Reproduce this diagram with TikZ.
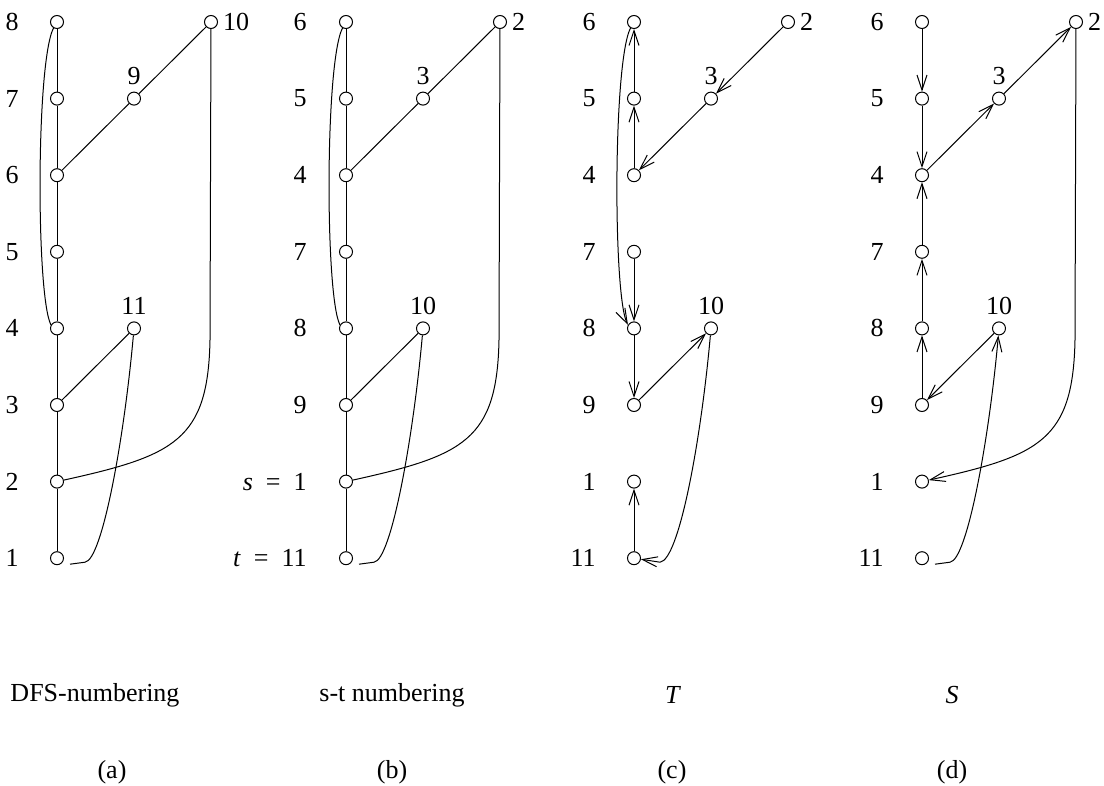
\documentclass[tikz,border=0pt]{standalone}
\usepackage{fontspec}
\setmainfont{Liberation Serif}
\usetikzlibrary{arrows.meta, calc}

\begin{document}
\begin{tikzpicture}[
        x=0.5pt, y=-0.5pt,
        vertex/.style={circle, draw, line width=0.5pt, inner sep=0pt, minimum size=6.5pt},
        rowlbl/.style={anchor=east, inner sep=0pt, font=\fontsize{13}{15}\selectfont},
        numlbl/.style={font=\fontsize{13}{15}\selectfont, label distance=0pt},
        edge/.style={line width=0.5pt},
        arr/.style={edge, -{Straight Barb[length=7.5pt, width=5pt]}},
        capt/.style={font=\fontsize{13}{15}\selectfont}
    ]
        \useasboundingbox (0,0) rectangle (1104,786);

        % vertical columns
        \foreach \lab [count=\i from 0] in {8,7,6,5,4,3,2,1} {
            \node[vertex] (a\lab) at (57,{22+76.6*\i}) {};
            \node[rowlbl] (la\lab) at (19,{22+76.6*\i}) {\lab};
        }
        \foreach \lab/\txt [count=\i from 0] in {6/6,5/5,4/4,7/7,8/8,9/9,1/{\textit{s}\enspace=\enspace1},11/{\textit{t}\enspace=\enspace11}} {
            \node[vertex] (b\lab) at (346,{22+76.6*\i}) {};
            \node[rowlbl] (lb\lab) at (307,{22+76.6*\i}) {\txt};
        }
        \foreach \p/\px in {c/634, d/922}
            \foreach \lab [count=\i from 0] in {6,5,4,7,8,9,1,11} {
                \node[vertex] (\p\lab) at (\px,{22+76.6*\i}) {};
                \node[rowlbl] (l\p\lab) at (\px-38,{22+76.6*\i}) {\lab};
            }

        % side vertices
        \foreach \p/\px/\mid/\top/\low in {a/57/9/10/11, b/346/3/2/10, c/634/3/2/10, d/922/3/2/10} {
            \node[vertex, label={[numlbl]above:\mid}] (\p\mid) at (\px+77,98.6) {};
            \node[vertex, label={[numlbl, label distance=-1pt]right:\top}] (\p\top) at (\px+154,22) {};
            \node[vertex, label={[numlbl]above:\low}] (\p\low) at (\px+77,328.4) {};
        }

        % (a) DFS-numbering
        \draw[edge] (a8) -- (a7) -- (a6) -- (a5) -- (a4) -- (a3) -- (a2) -- (a1);
        \draw[edge] (a6) -- (a9) -- (a10);
        \draw[edge] (a3) -- (a11);
        \draw[edge] (a8.240) .. controls ($(a8)+(-21,40)$) and ($(a4)+(-21,-33)$) .. (a4.150);
        \draw[edge] (a10) -- ($(a10)+(-1,318)$) .. controls ($(a10)+(-3,418)$) and ($(a2)+(118,-26)$) .. (a2);
        \draw[edge] (a11) .. controls ($(a11)+(-10,112)$) and ($(a11)+(-32,232)$) .. ($(a1)+(28,4)$) -- ($(a1)+(13,6)$);

        % (b) s-t numbering
        \draw[edge] (b6) -- (b5) -- (b4) -- (b7) -- (b8) -- (b9) -- (b1) -- (b11);
        \draw[edge] (b4) -- (b3) -- (b2);
        \draw[edge] (b9) -- (b10);
        \draw[edge] (b6.240) .. controls ($(b6)+(-21,40)$) and ($(b8)+(-21,-33)$) .. (b8.150);
        \draw[edge] (b2) -- ($(b2)+(-1,318)$) .. controls ($(b2)+(-3,418)$) and ($(b1)+(118,-26)$) .. (b1);
        \draw[edge] (b10) .. controls ($(b10)+(-10,112)$) and ($(b10)+(-32,232)$) .. ($(b11)+(28,4)$) -- ($(b11)+(13,6)$);

        % (c) T
        \draw[arr] (c4) -- (c5);
        \draw[arr] (c5) -- (c6);
        \draw[arr] (c2) -- (c3);
        \draw[arr] (c3) -- (c4);
        \draw[arr] (c7) -- (c8);
        \draw[arr] (c8) -- (c9);
        \draw[arr] (c9) -- (c10);
        \draw[arr] (c11) -- (c1);
        \draw[arr] (c6.240) .. controls ($(c6)+(-21,40)$) and ($(c8)+(-21,-33)$) .. (c8.150);
        \draw[arr] (c10) .. controls ($(c10)+(-10,112)$) and ($(c10)+(-32,232)$) .. ($(c11)+(26,4)$) -- (c11);

        % (d) S
        \draw[arr] (d6) -- (d5);
        \draw[arr] (d5) -- (d4);
        \draw[arr] (d7) -- (d4);
        \draw[arr] (d8) -- (d7);
        \draw[arr] (d9) -- (d8);
        \draw[arr] (d4) -- (d3);
        \draw[arr] (d3) -- (d2);
        \draw[arr] (d10) -- (d9);
        \draw[arr] (d2) -- ($(d2)+(-1,318)$) .. controls ($(d2)+(-3,418)$) and ($(d1)+(118,-26)$) .. (d1);
        \draw[arr] ($(d11)+(13,6)$) -- ($(d11)+(28,4)$) .. controls ($(d10)+(-32,232)$) and ($(d10)+(-10,112)$) .. (d10);

        % captions
        \node[capt] (ta) at (95,695) {DFS-numbering};
        \node[capt] (tb) at (392,695) {s-t numbering};
        \node[capt] (tc) at (673,695) {\textit{T}};
        \node[capt] (td) at (952,695) {\textit{S}};
        \node[capt] (ca) at (112,772) {(a)};
        \node[capt] (cb) at (392,772) {(b)};
        \node[capt] (cc) at (672,772) {(c)};
        \node[capt] (cd) at (952,772) {(d)};
    \end{tikzpicture}
\end{document}
